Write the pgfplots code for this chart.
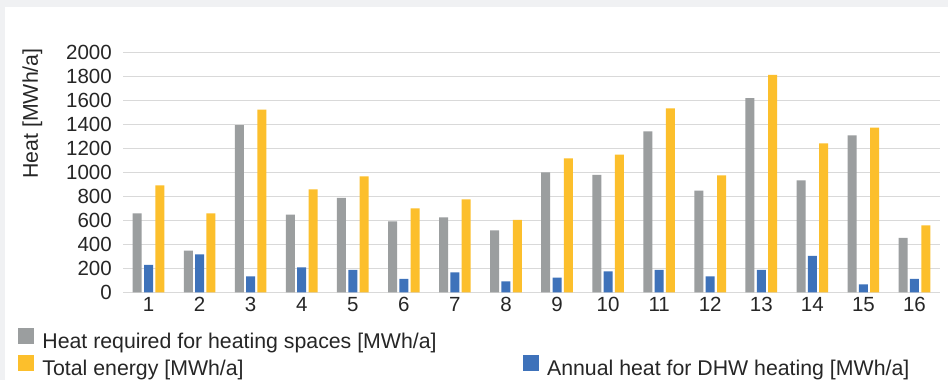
\documentclass[border=0pt]{standalone}
\usepackage{fontspec}
\setmainfont{Liberation Sans}
\usepackage{pgfplots}
\pgfplotsset{compat=1.18}
\definecolor{cgrey}{RGB}{155,158,159}
\definecolor{cblue}{RGB}{62,114,186}
\definecolor{cyellow}{RGB}{252,191,44}
\definecolor{gridc}{RGB}{217,217,217}
\definecolor{bgc}{RGB}{240,241,243}
\definecolor{txt}{RGB}{38,38,38}
\newcommand\fs{\fontsize{20.5}{24}\selectfont}
\newcommand\fl{\fontsize{21.3}{25}\selectfont}
\begin{document}
\begin{tikzpicture}[x=1pt,y=1pt]
\fill[bgc] (0,0) rectangle (948,380);
\fill[white] (5,0) rectangle (948,373);
\path[use as bounding box] (0,0) rectangle (948,380);
\begin{axis}[
  at={(123pt,87.7pt)}, anchor=south west,
  scale only axis, width=817pt, height=240pt,
  xmin=0.5, xmax=16.5, ymin=0, ymax=2000,
  ytick={0,200,...,2000},
  xtick={1,...,16},
  ymajorgrids, major grid style={gridc, line width=1.3pt},
  axis x line*=bottom, axis y line*=left,
  x axis line style={gridc, line width=1.3pt, -},
  y axis line style={draw=none},
  major tick length=0pt,
  tick style={draw=none},
  /pgf/number format/assume math mode=true,
  /pgf/number format/1000 sep={},
  ticklabel style={font=\fs, text=txt, inner sep=0pt},
  yticklabel style={xshift=-11pt},
  xticklabel style={yshift=-5pt},
  ylabel={Heat [MWh/a]},
  ylabel style={font=\fl, text=txt, at={(axis description cs:-0.111,0.745)}, anchor=center},
  legend columns=2,
  legend cell align=left,
  legend style={draw=none, fill=none, font=\fl, text=txt,
    at={(axis description cs:-0.1285,-0.14875)}, anchor=north west,
    inner sep=0pt, outer sep=0pt, row sep=2pt,
    nodes={inner sep=0pt, text height=15pt, text depth=4pt},
    /tikz/every odd column/.append style={column sep=9pt},
    /tikz/every even column/.append style={column sep=86pt}},
]
\addplot[ybar, fill=cgrey, draw=none, bar width=9pt, bar shift=-11.3pt, forget plot] coordinates {
(1,658) (2,347) (3,1394) (4,647) (5,786) (6,592) (7,625) (8,517)
(9,1000) (10,978) (11,1342) (12,847) (13,1619) (14,933) (15,1308) (16,453)};
\addplot[ybar, fill=cblue, draw=none, bar width=9pt, bar shift=0pt, forget plot] coordinates {
(1,228) (2,317) (3,133) (4,208) (5,186) (6,111) (7,167) (8,92)
(9,122) (10,175) (11,186) (12,133) (13,186) (14,303) (15,67) (16,111)};
\addplot[ybar, fill=cyellow, draw=none, bar width=9pt, bar shift=11.3pt, forget plot] coordinates {
(1,892) (2,658) (3,1522) (4,858) (5,967) (6,700) (7,775) (8,603)
(9,1117) (10,1147) (11,1533) (12,975) (13,1811) (14,1242) (15,1372) (16,558)};
\addlegendimage{legend image code/.code={\fill[cgrey] (0pt,0pt) rectangle (15pt,15pt);}}
\addlegendentry{Heat required for heating spaces [MWh/a]}
\addlegendimage{empty legend}
\addlegendentry{}
\addlegendimage{legend image code/.code={\fill[cyellow] (0pt,0pt) rectangle (15pt,15pt);}}
\addlegendentry{Total energy [MWh/a]}
\addlegendimage{legend image code/.code={\fill[cblue] (0pt,0pt) rectangle (15pt,15pt);}}
\addlegendentry{Annual heat for DHW heating [MWh/a]}
\end{axis}
\end{tikzpicture}
\end{document}
